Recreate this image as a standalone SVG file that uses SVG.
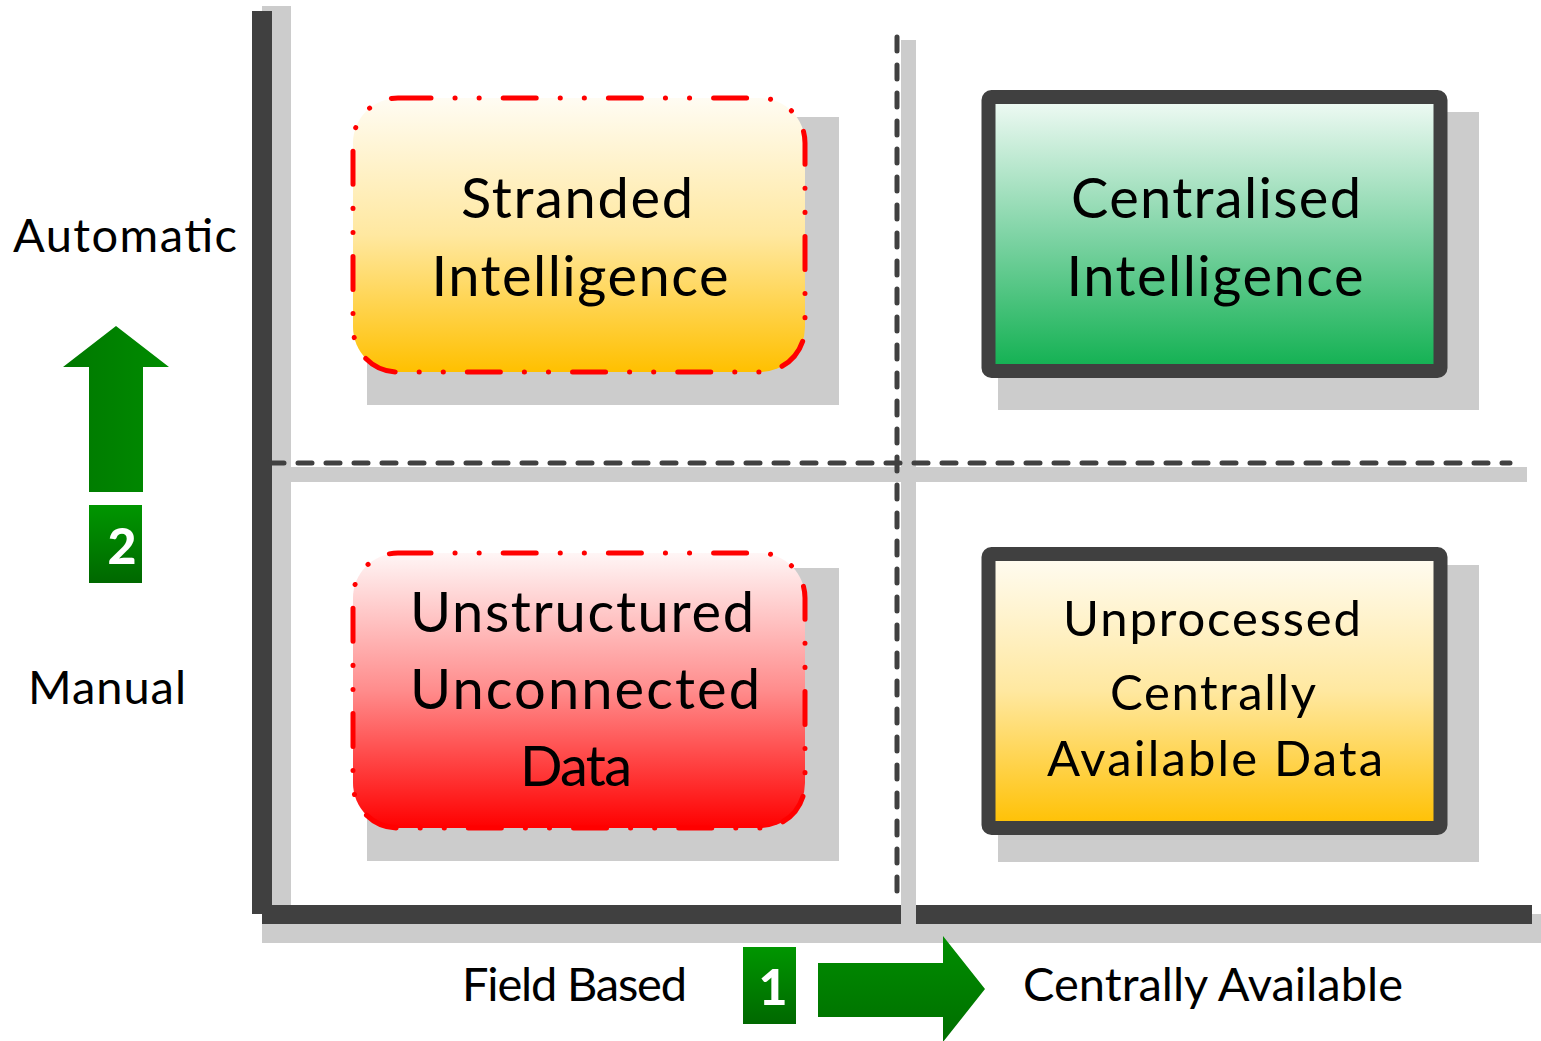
<svg xmlns="http://www.w3.org/2000/svg" width="1541" height="1041" viewBox="0 0 1541 1041">
  <defs>
    <linearGradient id="gYellow" x1="0" y1="0" x2="0" y2="1">
      <stop offset="0" stop-color="#FFFCF3"/>
      <stop offset="0.5" stop-color="#FFE8A0"/>
      <stop offset="1" stop-color="#FFC000"/>
    </linearGradient>
    <linearGradient id="gRed" x1="0" y1="0" x2="0" y2="1">
      <stop offset="0" stop-color="#FFF6F6"/>
      <stop offset="0.5" stop-color="#FF8C8C"/>
      <stop offset="1" stop-color="#FF0000"/>
    </linearGradient>
    <linearGradient id="gGreen" x1="0" y1="0" x2="0" y2="1">
      <stop offset="0" stop-color="#F2FBF6"/>
      <stop offset="0.5" stop-color="#80D4A6"/>
      <stop offset="1" stop-color="#10B050"/>
    </linearGradient>
    <linearGradient id="gArrowH" x1="0" y1="0" x2="0" y2="1">
      <stop offset="0" stop-color="#008E00"/>
      <stop offset="1" stop-color="#006E00"/>
    </linearGradient>
    <linearGradient id="gArrowV" x1="0" y1="0" x2="1" y2="0">
      <stop offset="0" stop-color="#007800"/>
      <stop offset="1" stop-color="#008C00"/>
    </linearGradient>
    <linearGradient id="gBadge" x1="0" y1="0" x2="0" y2="1">
      <stop offset="0" stop-color="#009600"/>
      <stop offset="1" stop-color="#006800"/>
    </linearGradient>
    <style>
      .shadow { fill: #CCCCCC; }
      .axis { fill: #404040; }
      .guide { fill: none; stroke: #404040; stroke-width: 5; stroke-linecap: round; stroke-dasharray: 14 14; }
      .soft { stroke: #FF0000; stroke-width: 5; stroke-linecap: round; stroke-dasharray: 33 24 0.1 24 0.1 24; }
      .solid { stroke: #404040; stroke-width: 14; stroke-linejoin: round; }
      .big { font-family: Lato, "Open Sans", sans-serif; font-size: 56px; fill: #000; text-anchor: middle; }
      .mid { font-family: Lato, "Open Sans", sans-serif; font-size: 49px; fill: #000; text-anchor: middle; }
      .lbl { font-family: Lato, "Open Sans", sans-serif; font-size: 47px; fill: #000; }
      .num { font-family: Lato, "DejaVu Sans", sans-serif; font-weight: 900; font-size: 50px; fill: #FFFFFF; text-anchor: middle; }
    </style>
  </defs>

  <!-- quadrant grid -->
  <g id="grid">
    <rect class="shadow" x="262" y="6" width="29" height="899"/>
    <rect class="shadow" x="262" y="914" width="1279" height="29"/>
    <rect class="shadow" x="901" y="40" width="15" height="884"/>
    <rect class="shadow" x="268" y="467" width="1259" height="15"/>
    <rect class="axis" x="252" y="11" width="20" height="903"/>
    <rect class="axis" x="262" y="905" width="639" height="19"/>
    <rect class="axis" x="916" y="905" width="616" height="19"/>
  </g>

  <!-- dashed dividers -->
  <g id="connectors">
    <line class="guide" x1="270" y1="463" x2="1510" y2="463"/>
    <line class="guide" x1="897" y1="37" x2="897" y2="903"/>
  </g>

  <g id="stranded">
    <rect class="shadow" x="367" y="117" width="472" height="288"/>
    <rect class="soft" x="353" y="98" width="452" height="274" rx="45" fill="url(#gYellow)"/>
    <text class="big" x="577" y="218" textLength="232" lengthAdjust="spacing">Stranded</text>
    <text class="big" x="580" y="296" textLength="297" lengthAdjust="spacing">Intelligence</text>
  </g>

  <g id="centralised">
    <rect class="shadow" x="998" y="112" width="481" height="298"/>
    <rect class="solid" x="988.5" y="97" width="452" height="274" rx="3" fill="url(#gGreen)"/>
    <text class="big" x="1216" y="218" textLength="290" lengthAdjust="spacing">Centralised</text>
    <text class="big" x="1215" y="296" textLength="297" lengthAdjust="spacing">Intelligence</text>
  </g>

  <g id="unstructured">
    <rect class="shadow" x="367" y="568" width="472" height="293"/>
    <rect class="soft" x="353" y="553" width="452" height="275" rx="45" fill="url(#gRed)"/>
    <text class="big" x="582" y="632" textLength="344" lengthAdjust="spacing">Unstructured</text>
    <text class="big" x="585" y="709" textLength="350" lengthAdjust="spacing">Unconnected</text>
    <text class="big" x="576" y="786" textLength="112" lengthAdjust="spacing">Data</text>
  </g>

  <g id="unprocessed">
    <rect class="shadow" x="998" y="565" width="481" height="297"/>
    <rect class="solid" x="988.5" y="554" width="452" height="274" rx="3" fill="url(#gYellow)"/>
    <text class="mid" x="1212" y="636" textLength="298" lengthAdjust="spacing">Unprocessed</text>
    <text class="mid" x="1213" y="710" textLength="206" lengthAdjust="spacing">Centrally</text>
    <text class="mid" x="1215" y="776" textLength="336" lengthAdjust="spacing">Available Data</text>
  </g>

  <!-- axis captions -->
  <g id="labels">
    <text class="lbl" x="13" y="252" textLength="224" lengthAdjust="spacing">Automatic</text>
    <text class="lbl" x="28" y="704" textLength="158" lengthAdjust="spacing">Manual</text>
    <text class="lbl" x="462" y="1001" textLength="225" lengthAdjust="spacing">Field Based</text>
    <text class="lbl" x="1023" y="1001" textLength="380" lengthAdjust="spacing">Centrally Available</text>
  </g>

  <g id="arrow-up">
    <polygon points="89,492 89,367 63,367 116,326 169,367 143,367 143,492" fill="url(#gArrowV)"/>
    <rect x="89" y="505" width="53" height="78" fill="url(#gBadge)"/>
    <text class="num" x="122" y="564">2</text>
  </g>

  <g id="arrow-right">
    <polygon points="818,963 943,963 943,936 985,989 943,1042 943,1017 818,1017" fill="url(#gArrowH)"/>
    <rect x="743" y="947" width="53" height="77" fill="url(#gBadge)"/>
    <text class="num" x="773" y="1005">1</text>
  </g>
</svg>
